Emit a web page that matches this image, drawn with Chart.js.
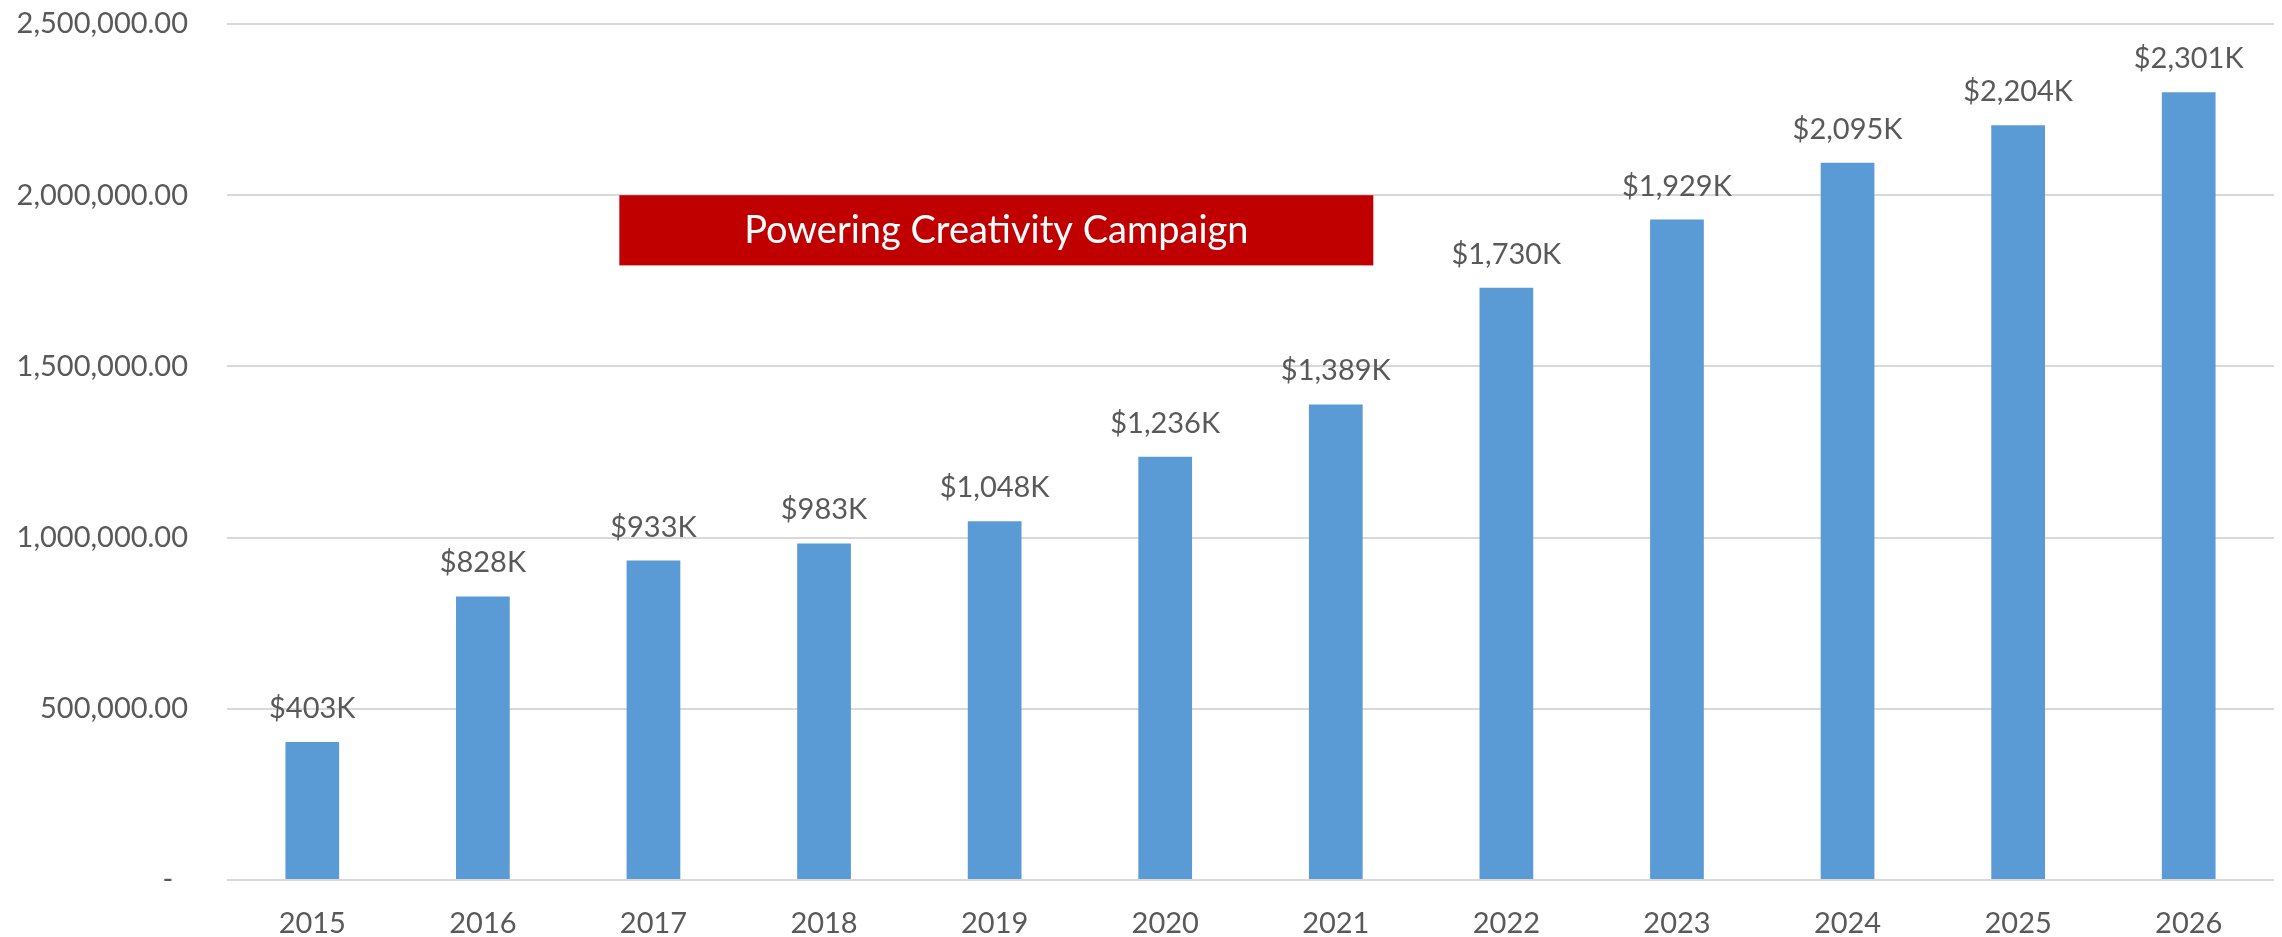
<!DOCTYPE html>
<html>
<head>
<meta charset="utf-8">
<script src="https://cdn.jsdelivr.net/npm/chart.js@4/dist/chart.umd.min.js"></script>
<style>
    body { margin: 0; background: #ffffff; }
    #revenueChart { display: block; }
</style>
</head>
<body>
<canvas id="revenueChart" width="2282" height="937"></canvas>
<script>
// yearly totals in dollars
const years = ['2015', '2016', '2017', '2018', '2019', '2020', '2021', '2022', '2023', '2024', '2025', '2026']
const revenue = [403000, 828000, 933000, 983000, 1048000, 1236000, 1389000, 1730000, 1929000, 2095000, 2204000, 2301000]
const yTicks = [0, 500000, 1000000, 1500000, 2000000, 2500000]
const bannerText = 'Powering Creativity Campaign'

const textColor = '#595959'
const fontFamily = 'Lato, "Open Sans", sans-serif'

const formatK = function (value) {
    return '$' + (value / 1000).toLocaleString('en-US') + 'K'
}

const formatTick = function (value) {
    if (value === 0) {
        return '-  '
    }
    return value.toLocaleString('en-US', { minimumFractionDigits: 2, maximumFractionDigits: 2 })
}

// "$xxxK" above each bar
const valueLabels = {
    id: 'valueLabels',
    afterDatasetsDraw(chart) {
        const ctx = chart.ctx
        const meta = chart.getDatasetMeta(0)
        ctx.save()
        ctx.font = '29px ' + fontFamily
        ctx.fillStyle = textColor
        ctx.textAlign = 'center'
        ctx.textBaseline = 'alphabetic'
        meta.data.forEach((bar, i) => {
            ctx.fillText(formatK(revenue[i]), bar.x, bar.y - 24)
        })
        ctx.restore()
    }
}

// red campaign banner, placed in data units
const campaignBanner = {
    id: 'campaignBanner',
    afterDatasetsDraw(chart, args, opts) {
        const ctx = chart.ctx
        const x = chart.scales.x
        const y = chart.scales.y
        const left = x.getPixelForValue(opts.fromIndex)
        const right = x.getPixelForValue(opts.toIndex)
        const top = y.getPixelForValue(opts.top)
        const bottom = y.getPixelForValue(opts.bottom)
        ctx.save()
        ctx.fillStyle = '#c00000'
        ctx.fillRect(left, top, right - left, bottom - top)
        ctx.font = '38px ' + fontFamily
        ctx.fillStyle = '#ffffff'
        ctx.textAlign = 'center'
        ctx.textBaseline = 'middle'
        ctx.fillText(opts.text, (left + right) / 2, (top + bottom) / 2)
        ctx.restore()
    }
}

const data = {
    labels: years,
    datasets: [{
        label: 'Revenue',
        backgroundColor: '#5b9bd5',
        borderWidth: 0,
        barPercentage: 0.315,
        categoryPercentage: 1,
        data: revenue,
    }]
}

const config = {
    type: 'bar',
    data: data,
    options: {
        responsive: false,
        animation: false,
        layout: {
            padding: { left: 0, right: 8, top: 24, bottom: 0 }
        },
        plugins: {
            legend: { display: false },
            tooltip: { enabled: false },
            campaignBanner: {
                text: bannerText,
                fromIndex: 1.8,
                toIndex: 6.22,
                top: 2000000,
                bottom: 1795000
            }
        },
        scales: {
            x: {
                grid: { display: false, drawTicks: false },
                border: { display: false },
                ticks: {
                    color: textColor,
                    font: { family: fontFamily, size: 29 },
                    padding: 26
                },
                afterFit: function (scale) {
                    scale.height = 57
                }
            },
            y: {
                min: 0,
                max: 2500000,
                afterBuildTicks: function (scale) {
                    scale.ticks = yTicks.map(v => ({ value: v }))
                },
                grid: {
                    color: '#d9d9d9',
                    lineWidth: 2,
                    drawTicks: false
                },
                border: { display: false },
                ticks: {
                    color: textColor,
                    font: { family: fontFamily, size: 29 },
                    padding: 39,
                    callback: formatTick
                },
                afterFit: function (scale) {
                    // fixed gutter; the tick padding should not push the plot down
                    scale.width = 227
                    scale.paddingTop = 0
                    scale.paddingBottom = 0
                }
            }
        }
    },
    plugins: [valueLabels, campaignBanner]
}

window.onload = function () {
    const revenueChart = new Chart(
        document.getElementById('revenueChart'),
        config
    )
}
</script>
</body>
</html>
